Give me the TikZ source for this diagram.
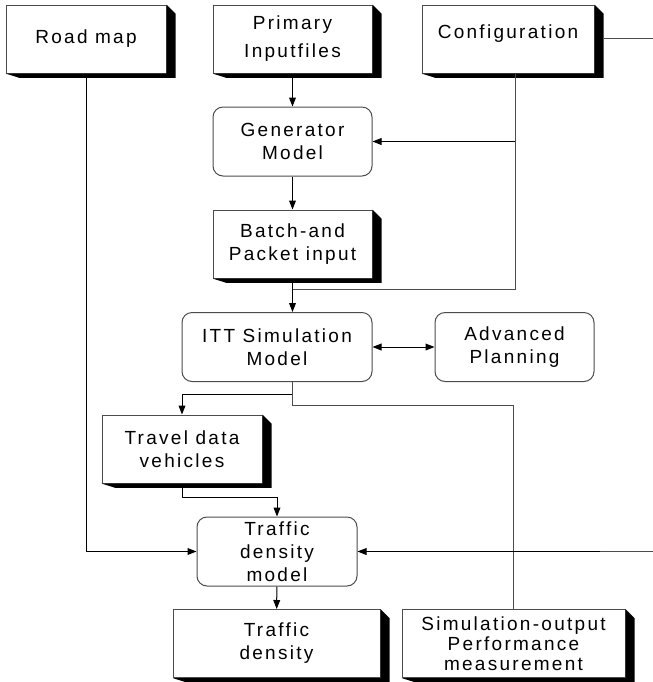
\documentclass[tikz,border=0pt]{standalone}
\usepackage{fontspec}
\setmainfont{Liberation Sans}[LetterSpace=12]
\usetikzlibrary{arrows.meta}

\begin{document}
\begin{tikzpicture}[
  x=0.5pt, y=-0.5pt,
  block/.style={rectangle, draw=black!70, line width=0.5pt, fill=white, minimum height=34pt, inner sep=1pt, align=center, font=\fontsize{9.5}{11.5}\selectfont},
  model/.style={block, rounded corners=5pt, minimum height=34.5pt},
  line/.style={draw=black!70, line width=0.5pt},
  arrow/.style={-{Triangle[length=4.5pt,width=3.4pt]}, line width=0.5pt}
]
  \useasboundingbox (0,0) rectangle (653,682);

  \node[block, minimum width=80pt] (road) at (86,39) {Road map};
  \node[block, minimum width=79.5pt] (primary) at (292.5,39) {Primary\\[2.5pt]Inputfiles};
  \node[block, minimum width=86pt, text depth=7pt] (config) at (508,39) {Configuration};
  \node[model, minimum width=79.5pt] (gen) at (292.5,141.5) {Generator\\Model};
  \node[block, minimum width=79.5pt] (batch) at (292.5,244) {Batch-and\\Packet input};
  \node[model, minimum width=95pt] (itt) at (277,347) {ITT Simulation\\Model};
  \node[model, minimum width=79.5pt] (adv) at (514.5,347) {Advanced\\Planning};
  \node[block, minimum width=80pt] (travel) at (182,449) {Travel data\\vehicles};
  \node[model, minimum width=80pt] (tdmodel) at (277,551.5) {Traffic\\density\\model};
  \node[block, minimum width=103.5pt] (tdens) at (276.5,643.5) {Traffic\\density};
  \node[block, minimum width=111.5pt, font=\fontsize{9.5}{10}\selectfont] (simout) at (513.5,643.5) {Simulation-output\\Performance\\measurement};

  \foreach \n in {road,primary,config,batch,travel,tdens,simout}
    \fill (\n.north east) -- ++(4.5pt,-4.5pt) -- ([shift={(4.5pt,-2.2pt)}]\n.south east)
      -- ([shift={(7pt,-2.2pt)}]\n.south west) -- (\n.south west) -- (\n.south east) -- cycle;

  \coordinate (cfgout) at ([xshift=3.5pt]config.south);
  \coordinate (join) at (292.5,289);
  \coordinate (rim) at (660,38);
  \coordinate (ittout) at (itt.south -| batch.south);

  \draw[arrow] (primary) -- (gen);
  \draw[arrow] (gen) -- (batch);
  \draw[arrow] (batch.south) -- (itt.north -| batch.south);
  \draw[line] (cfgout) |- (join);
  \draw[arrow] (cfgout |- gen.east) -- (gen.east);
  \draw[arrow, {Triangle[length=4.5pt,width=3.4pt]}-{Triangle[length=4.5pt,width=3.4pt]}] (itt) -- (adv);
  \draw[arrow] (ittout) -- ++(0,12) -| (travel.north);
  \draw[line] (ittout) -- ++(0,23) -| (simout.north);
  \draw[arrow] (travel.south) -- ++(0,14) -| (tdmodel.north);
  \draw[arrow] (road.south) |- (tdmodel.west);
  \draw[line] ([xshift=4.5pt]config.east |- rim) -- (rim) |- (tdmodel.east);
  \draw[arrow] (tdmodel.east -| 600,0) -- (tdmodel.east);
  \draw[arrow] (tdmodel) -- (tdens);
\end{tikzpicture}
\end{document}
